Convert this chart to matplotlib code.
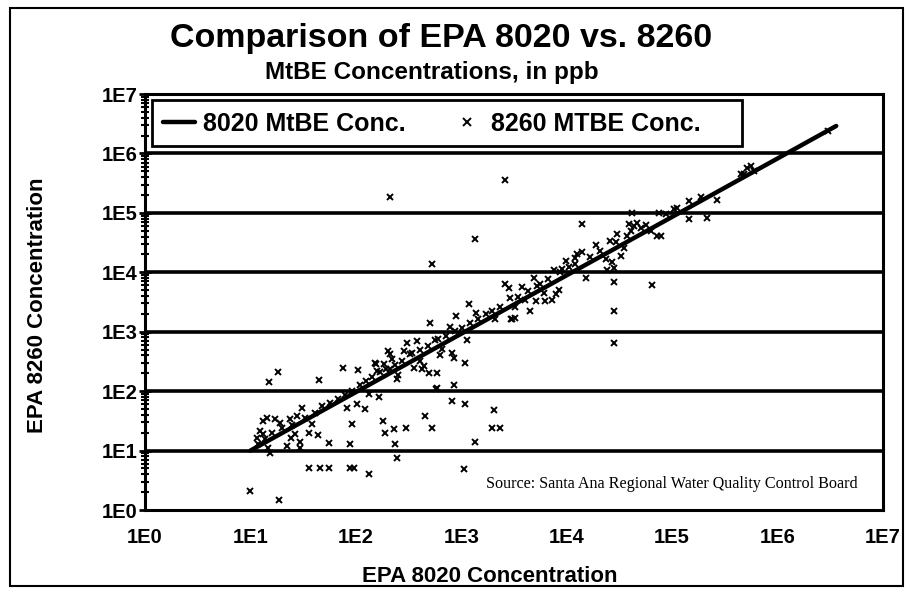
import numpy as np
import matplotlib
matplotlib.use('Agg')
import matplotlib.pyplot as plt
from matplotlib.patches import Rectangle
from matplotlib.ticker import LogLocator, FixedLocator, NullFormatter

plt.rcParams['font.family'] = ['Liberation Sans', 'DejaVu Sans']

# EPA 8020 vs 8260 MtBE results (ppb)
epa8020 = [18.2, 15.1, 45.2, 75.4, 104, 155, 82, 102, 123, 91.8,
           44.2, 55.1, 87.1, 35.6, 29.6, 29.6, 24.2, 26.6, 22.2, 13.3,
           14.3, 17.2, 19.1, 23.8, 27.6, 30.8, 12.4, 11.5, 13.3, 14.8,
           15.4, 36.1, 45.9, 56.2, 88.5, 95.1, 132, 9.9, 18.7, 38.3,
           589, 847, 818, 1077, 2032, 449, 181, 164, 132, 190,
           228, 301, 528, 1960, 2350, 1360, 237, 247, 1054, 2620,
           2820, 2880, 1190, 898, 1390, 501, 788, 2110, 2930, 3260,
           1135, 818, 847, 1094, 589, 490, 424, 624, 580, 153,
           212, 222, 203, 246, 253, 306, 380, 568, 657, 284,
           329, 409, 440, 353, 159, 183, 212, 41900, 14000, 38900,
           43400, 46700, 50200, 30200, 37500, 72300, 26000, 18800, 34800, 32400,
           23400, 27000, 24300, 28000, 14000, 12400, 11900, 9740, 12100, 9060,
           7550, 15100, 28000, 64900, 28000, 4870, 3780, 5250, 6060, 8410,
           7830, 7280, 6290, 5060, 4060, 4530, 3260, 3040, 557000, 518000,
           598000, 481000, 144000, 269000, 104000, 112000, 75000, 144000, 216000, 77800,
           62500, 2980000, 28000, 212, 1340, 528, 2620,
           11.8, 13.8, 16.1, 20.0, 24.9, 33.1, 41.1, 48.0, 57.1, 68.1,
           79.3, 92.5, 110, 126, 143, 171, 194, 237, 276, 343,
           409, 487, 606, 722, 879, 1024, 1220, 1450, 1730, 1970,
           2350, 3480, 4340, 5640, 6710, 8730, 10400, 16800, 20900, 29100,
           40400, 56000, 86700, 187000, 447000]
epa8260 = [213, 145, 153, 243, 225, 290, 52.7, 60.1, 49.6, 27.7,
           18.1, 13.2, 13.1, 20.0, 14.1, 11.2, 16.5, 18.8, 11.9, 31.5,
           35.0, 33.6, 29.5, 33.6, 38.2, 52.7, 21.4, 16.5, 18.8, 11.2,
           9.2, 5.1, 5.0, 5.0, 5.0, 5.0, 4.0, 2.09, 1.45, 27.7,
           112, 127, 68.4, 61.6, 48.3, 38.2, 31.5, 79.9, 88.7, 20.0,
           22.8, 24.3, 24.3, 23.7, 23.7, 14.2, 12.9, 7.6, 4.84, 6310,
           5400, 3750, 2900, 1850, 2100, 1410, 1220, 1620, 1620, 1730,
           719, 445, 366, 302, 205, 205, 234, 407, 108, 302,
           423, 348, 475, 159, 187, 655, 700, 719, 508, 475,
           418, 322, 266, 249, 219, 284, 234, 101000, 64500, 64500,
           60400, 68700, 56600, 44800, 41000, 41000, 33800, 28900, 26100, 18900,
           16600, 15100, 10800, 12000, 22300, 20200, 17700, 15600, 14000, 11300,
           10800, 8150, 6760, 6210, 2270, 7960, 5680, 5900, 4550, 5000,
           4280, 3390, 3300, 3300, 3390, 2240, 2620, 1620, 618000, 579000,
           509000, 449000, 159000, 164000, 115000, 123000, 101000, 78300, 81400, 41000,
           49800, 2400000, 655, 186000, 36100, 13700, 355000,
           12.9, 15.7, 19.8, 24.0, 27.0, 35.4, 43.0, 56.4, 63.3, 73.9,
           86.3, 101, 127, 149, 173, 210, 236, 276, 322, 440,
           494, 577, 757, 850, 1030, 1160, 1410, 1640, 1990, 2240,
           2620, 3850, 4860, 6380, 7740, 10200, 12300, 18200, 22900, 32500,
           49800, 62800, 96200, 186000, 454000]

# 8020 reference line (8020 plotted against itself)
line_x = [10, 3.6e6]
line_y = [10, 2.9e6]

decades = [1e0, 1e1, 1e2, 1e3, 1e4, 1e5, 1e6, 1e7]
decade_labels = ['1E0', '1E1', '1E2', '1E3', '1E4', '1E5', '1E6', '1E7']

fig = plt.figure(figsize=(9.1, 5.92), dpi=100)
W, H = 910, 592
ax = fig.add_axes([145 / W, 1 - 510 / H, (883 - 145) / W, (510 - 94) / H])

ax.set_xscale('log')
ax.set_yscale('log')
ax.set_xlim(1e0, 1e7)
ax.set_ylim(1e0, 1e7)

for d in decades[1:-1]:
    ax.axhline(d, color='black', lw=2.6, zorder=1)

ax.plot(line_x, line_y, color='black', lw=3.2, solid_capstyle='round', zorder=3,
        label='8020 MtBE Conc.')
ax.plot(epa8020, epa8260, ls='none', marker='x', ms=4.5, mew=1.4, color='black',
        zorder=4, label='8260 MTBE Conc.')

for s in ax.spines.values():
    s.set_linewidth(2.2)

ax.xaxis.set_major_locator(FixedLocator(decades))
ax.xaxis.set_minor_locator(FixedLocator([]))
ax.set_xticklabels(decade_labels)
ax.yaxis.set_major_locator(FixedLocator(decades))
ax.yaxis.set_minor_locator(LogLocator(base=10, subs=np.arange(2, 10), numticks=20))
ax.yaxis.set_minor_formatter(NullFormatter())
ax.set_yticklabels(decade_labels)

ax.tick_params(axis='x', which='major', length=0, pad=13, labelsize=14.5)
ax.tick_params(axis='y', which='major', direction='inout', length=9, width=2,
               pad=1, labelsize=14.5)
ax.tick_params(axis='y', which='minor', direction='inout', length=6, width=1.5)
for lab in ax.get_xticklabels() + ax.get_yticklabels():
    lab.set_fontweight('bold')

# legend box drawn by hand, entries placed without frame
ax.add_patch(Rectangle((0.0095, 0.875), 0.80, 0.111, transform=ax.transAxes,
                       facecolor='white', edgecolor='black', lw=2, zorder=5))
leg = ax.legend(loc='center left', bbox_to_anchor=(0.024, 0.929), ncol=2,
                frameon=False, prop={'weight': 'bold', 'size': 18},
                handlelength=1.3, handletextpad=0.32, columnspacing=1.8,
                borderpad=0, borderaxespad=0, markerscale=1.2)
leg.set_zorder(6)

ax.text(0.966, 0.0625, 'Source: Santa Ana Regional Water Quality Control Board',
        transform=ax.transAxes, ha='right', va='center', fontsize=11.6,
        family=['Liberation Serif', 'DejaVu Serif'])

fig.text(441 / W, 1 - 38 / H, 'Comparison of EPA 8020 vs. 8260', ha='center',
         va='center', fontsize=24.5, fontweight='bold')
fig.text(432 / W, 1 - 72 / H, 'MtBE Concentrations, in ppb', ha='center',
         va='center', fontsize=17.5, fontweight='bold')
fig.text(490 / W, 1 - 577 / H, 'EPA 8020 Concentration', ha='center',
         va='center', fontsize=16, fontweight='bold')
fig.text(38 / W, 1 - 305 / H, 'EPA 8260 Concentration', ha='center',
         va='center', rotation=90, fontsize=16, fontweight='bold')

fig.patches.append(Rectangle((10 / W, 1 - 586 / H), 893 / W, 578 / H,
                             transform=fig.transFigure, fill=False,
                             edgecolor='black', lw=1.5))

fig.savefig('out.png', dpi=100)
